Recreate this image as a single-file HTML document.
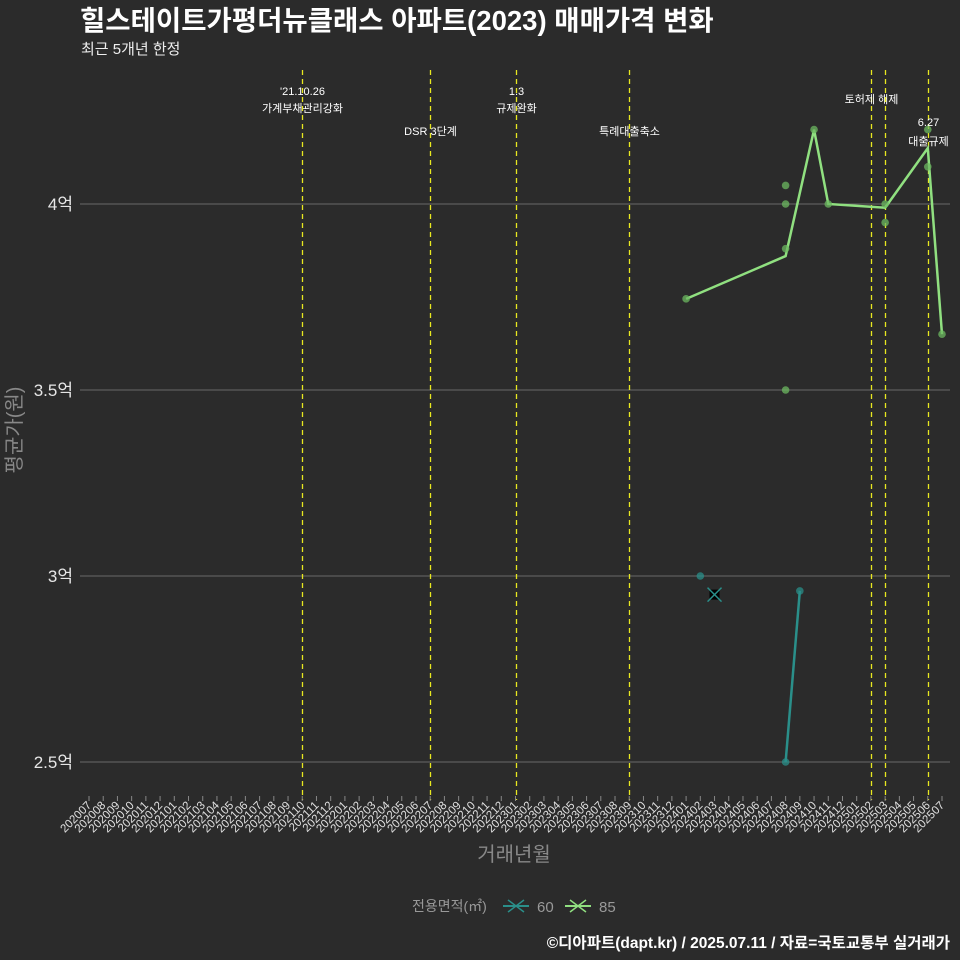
<!DOCTYPE html>
<html><head><meta charset="utf-8"><style>
html,body{margin:0;padding:0;background:#2b2b2b;}
svg{display:block;font-family:"Liberation Sans","Noto Sans CJK KR",sans-serif;}
</style></head><body>
<svg id="chart" width="960" height="960" viewBox="0 0 960 960">
<rect x="0" y="0" width="960" height="960" fill="#2b2b2b"/>
<text x="80" y="30" fill="#ffffff" font-size="27.5" font-weight="bold">힐스테이트가평더뉴클래스 아파트(2023) 매매가격 변화</text>
<text x="81" y="54" fill="#eeeeee" font-size="15">최근 5개년 한정</text>
<g id="grid"></g><g id="events"></g><g id="series"></g><g id="xaxis"></g><g id="yaxis"></g>
<text x="514" y="861" fill="#888888" font-size="20" text-anchor="middle">거래년월</text>
<text transform="translate(21,430) rotate(-90)" fill="#888888" font-size="20" text-anchor="middle">평균가(원)</text>
<g>
<text x="412" y="911" fill="#999999" font-size="14">전용면적(㎡)</text>
<g>
<line x1="503" y1="906" x2="529" y2="906" stroke="#2a8f8a" stroke-width="2"/>
<line x1="508" y1="900" x2="524" y2="912" stroke="#2a8f8a" stroke-width="1.5"/><line x1="508" y1="912" x2="524" y2="900" stroke="#2a8f8a" stroke-width="1.5"/>
<text x="537" y="912" fill="#999999" font-size="15">60</text></g>
<g>
<line x1="565" y1="906" x2="591" y2="906" stroke="#90e080" stroke-width="2"/>
<line x1="570" y1="900" x2="586" y2="912" stroke="#90e080" stroke-width="1.5"/><line x1="570" y1="912" x2="586" y2="900" stroke="#90e080" stroke-width="1.5"/>
<text x="599" y="912" fill="#999999" font-size="15">85</text></g>
</g>
<text x="950" y="948" fill="#ffffff" font-size="15.5" font-weight="bold" text-anchor="end">©디아파트(dapt.kr) / 2025.07.11 / 자료=국토교통부 실거래가</text>
</svg>
<script>
const months = [];
for (let y = 2020; y <= 2025; y++) for (let m = 1; m <= 12; m++) { const k = y*100+m; if (k >= 202007 && k <= 202507) months.push(String(k)); }
const yTicks = [2.5, 3, 3.5, 4];
const yTickLabels = ["2.5억","3억","3.5억","4억"];
const line85Months = ["202401","202408","202410","202411","202503","202506","202507"];
const line85Values = [3.745,3.86,4.2,4.0,3.99,4.15,3.65];
const pts85Months = ["202401","202408","202408","202408","202408","202410","202411","202503","202503","202506","202506","202507"];
const pts85Values = [3.745,4.05,4.0,3.88,3.5,4.2,4.0,4.0,3.95,4.2,4.1,3.65];
const line60Months = ["202408","202409"];
const line60Values = [2.5,2.96];
const pts60Months = ["202402","202408","202409"];
const pts60Values = [3.0,2.5,2.96];
const single60Months = ["202403"];
const single60Values = [2.95];
const eventMonths = ["202110","202207","202301","202309","202502","202503","202506"];
const eventLabels = [["'21.10.26","가계부채관리강화"],["DSR 3단계"],["1.3","규제완화"],["특례대출축소"],["토허제 해제"],[],["6.27","대출규제"]];
const eventLabelY = [[95,112],[135],[95,112],[135],[103],[],[126,145]];

const NS="http://www.w3.org/2000/svg";
const X0=89, XSTEP=(942-89)/60;
const xs = m => X0 + months.indexOf(m)*XSTEP;
const ys = v => 204 + (4 - v)*372;
function el(tag, attrs, parent){const e=document.createElementNS(NS,tag);for(const k in attrs)e.setAttribute(k,attrs[k]);parent.appendChild(e);return e;}
const grid=document.getElementById('grid'), yaxis=document.getElementById('yaxis'), xaxis=document.getElementById('xaxis'), events=document.getElementById('events'), series=document.getElementById('series');
yTicks.forEach((v,i)=>{
  const l=el('line',{x1:80,x2:950,y1:ys(v),y2:ys(v),stroke:'#6a6a6a','stroke-width':1},grid);
  
  
  const t=el('text',{x:73,y:ys(v)+6,fill:'#e6e6e6','font-size':17,'text-anchor':'end'},yaxis);
  t.textContent=yTickLabels[i];
  
  
});
months.forEach(m=>{
  const x=xs(m);
  const tk=el('line',{x1:x,x2:x,y1:796,y2:801,stroke:'#888888','stroke-width':1},xaxis);
  
  
  const t=el('text',{x:x+3,y:806,fill:'#e0e0e0','font-size':11.5,'text-anchor':'end',transform:`rotate(-45 ${x+3} 806)`},xaxis);
  t.textContent=m;
  
  
});
eventMonths.forEach((m,i)=>{
  const x=Math.round(xs(m))+0.5;
  const l=el('line',{x1:x,x2:x,y1:70,y2:800,stroke:'#e8e820','stroke-width':1.3,'stroke-dasharray':'5,4'},events);
  
  
  eventLabels[i].forEach((s,j)=>{
    const t=el('text',{x:x,y:eventLabelY[i][j],fill:'#ffffff','font-size':11,'text-anchor':'middle'},events);
    t.textContent=s;
    
    
  });
});
function drawLine(ms,vs,color,name){
  const p=el('polyline',{points:ms.map((m,i)=>xs(m)+','+ys(vs[i])).join(' '),fill:'none',stroke:color,'stroke-width':2.5},series);
  
  
}
function drawPts(ms,vs,color,name){
  ms.forEach((m,i)=>{
    const c=el('circle',{cx:xs(m),cy:ys(vs[i]),r:3.8,fill:color,'fill-opacity':0.75},series);
    
    
  });
}
drawLine(line85Months,line85Values,'#90e080','line-85');
drawPts(pts85Months,pts85Values,'#6cb860','point-85');
drawLine(line60Months,line60Values,'#2a8f8a','line-60');
drawPts(pts60Months,pts60Values,'#2a8f8a','point-60');
single60Months.forEach((m,i)=>{
  const x=xs(m), y=ys(single60Values[i]);
  const g=el('g',{},series);
  
  
  el('rect',{x:x-5,y:y-5,width:10,height:10,fill:'#000000'},g);
  el('line',{x1:x-7,y1:y-7,x2:x+7,y2:y+7,stroke:'#2a8f8a','stroke-width':1.5},g);
  el('line',{x1:x-7,y1:y+7,x2:x+7,y2:y-7,stroke:'#2a8f8a','stroke-width':1.5},g);
});
</script>
</body></html>
